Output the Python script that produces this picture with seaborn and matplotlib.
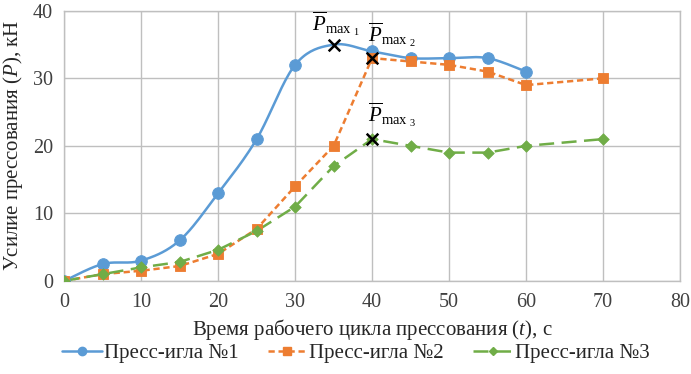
import numpy as np
import pandas as pd
import seaborn as sns
import matplotlib
matplotlib.use("Agg")
import matplotlib.pyplot as plt
from matplotlib.lines import Line2D

# ---- data ----
t1 = [0, 5, 10, 15, 20, 25, 30, 35, 40, 45, 50, 55, 60]
p1 = [0, 2.5, 3, 6, 13, 21, 32, 35, 34, 33, 33, 33, 31]
t2 = [0, 5, 10, 15, 20, 25, 30, 35, 40, 45, 50, 55, 60, 70]
p2 = [0, 1, 1.5, 2.2, 4, 7.7, 14, 20, 33, 32.5, 32, 31, 29, 30]
t3 = [0, 5, 10, 15, 20, 25, 30, 35, 40, 45, 50, 55, 60, 70]
p3 = [0, 1, 2, 2.8, 4.6, 7.4, 11, 17, 21, 20, 19, 19, 20, 21]
series_names = ["Пресс-игла №1", "Пресс-игла №2", "Пресс-игла №3"]
pmax_t = [35, 40, 40]
pmax_p = [35, 33, 21]
pmax_labels = [r"$\overline{P}_{\mathrm{max}\ _{1}}$", r"$\overline{P}_{\mathrm{max}\ _{2}}$",
               r"$\overline{P}_{\mathrm{max}\ _{3}}$"]
xticks = [0, 10, 20, 30, 40, 50, 60, 70, 80]
yticks = [0, 10, 20, 30, 40]

sns.set_theme(style="whitegrid")
plt.rcParams['font.family'] = ['Liberation Serif', 'DejaVu Serif']
plt.rcParams['mathtext.fontset'] = 'custom'
plt.rcParams['mathtext.rm'] = 'Liberation Serif'
plt.rcParams['mathtext.it'] = 'Liberation Serif:italic'

colors = ["#5B9BD5", "#ED7D31", "#70AD47"]


def catmull(x, y, n=20):
    x = np.asarray(x, float); y = np.asarray(y, float)
    P = np.column_stack([x, y])
    P = np.vstack([P[0], P, P[-1]])
    out = []
    for i in range(1, len(P) - 2):
        p0, p1_, p2_, p3_ = P[i - 1], P[i], P[i + 1], P[i + 2]
        s = np.linspace(0, 1, n, endpoint=False)[:, None]
        c = 0.5 * ((2 * p1_) + (-p0 + p2_) * s + (2 * p0 - 5 * p1_ + 4 * p2_ - p3_) * s ** 2 +
                   (-p0 + 3 * p1_ - 3 * p2_ + p3_) * s ** 3)
        out.append(c)
    out.append(P[-2][None, :])
    c = np.vstack(out)
    return c[:, 0], c[:, 1]


fig = plt.figure(figsize=(6.91, 3.74), dpi=100)
ax = fig.add_axes([0.093, 0.249, 0.891, 0.722])

df1 = pd.DataFrame({"t": t1, "p": p1})
df2 = pd.DataFrame({"t": t2, "p": p2})
df3 = pd.DataFrame({"t": t3, "p": p3})

ls2 = (0, (2.5, 1.5))
ls3 = (0, (6, 3))

# smooth line for series 1, straight for the others
sx, sy = catmull(df1.t, df1.p)
ax.plot(sx, sy, color=colors[0], lw=1.8, zorder=3)
sns.lineplot(data=df2, x="t", y="p", ax=ax, color=colors[1], lw=1.8, linestyle=ls2, zorder=3)
sns.lineplot(data=df3, x="t", y="p", ax=ax, color=colors[2], lw=1.8, linestyle=ls3, zorder=3)

m1 = df1[df1.t != 35]
sns.scatterplot(data=m1, x="t", y="p", ax=ax, color=colors[0], marker="o", s=70,
                edgecolor=colors[0], zorder=4, legend=False)
sns.scatterplot(data=df2, x="t", y="p", ax=ax, color=colors[1], marker="s", s=60,
                edgecolor=colors[1], zorder=4, legend=False)
sns.scatterplot(data=df3, x="t", y="p", ax=ax, color=colors[2], marker="D", s=35,
                edgecolor=colors[2], zorder=4, legend=False)

ax.scatter(pmax_t, pmax_p, marker="x", color="black", s=70, linewidths=1.8, zorder=5)
offs = [(-2.8, 1.0), (-0.5, 1.3), (-0.5, 1.5)]
for tx, py, lab, (dx, dy) in zip(pmax_t, pmax_p, pmax_labels, offs):
    ax.text(tx + dx, py + dy, lab, fontsize=15, ha="left", va="bottom", color="black")

ax.set_xlim(0, 80)
ax.set_ylim(0, 40)
ax.set_xticks(xticks)
ax.set_yticks(yticks)
ax.grid(True, color="#BFBFBF", lw=1)
for s in ax.spines.values():
    s.set_color("#BFBFBF")
    s.set_linewidth(1)
ax.tick_params(axis="both", labelsize=14.5, colors="#404040", length=0)
ax.tick_params(axis="x", pad=9)
ax.tick_params(axis="y", pad=8)
ax.set_xlabel("Время рабочего цикла прессования ($\\mathit{t}$), с", fontsize=15, color="#262626",
              labelpad=3)
ax.set_ylabel("Усилие прессования ($\\mathit{P}$), кН", fontsize=15, color="#262626", labelpad=6)

handles = [
    Line2D([], [], color=colors[0], lw=1.8, marker="o", ms=6),
    Line2D([], [], color=colors[1], lw=1.8, ls=ls2, marker="s", ms=6),
    Line2D([], [], color=colors[2], lw=1.8, ls=ls3, marker="D", ms=4.5),
]
fig.legend(handles, series_names, loc="center", bbox_to_anchor=(0.515, 0.055), ncol=3,
           frameon=False, fontsize=15, handlelength=1.9, handletextpad=0.1, columnspacing=1.4)

fig.savefig("out.png", dpi=100)
